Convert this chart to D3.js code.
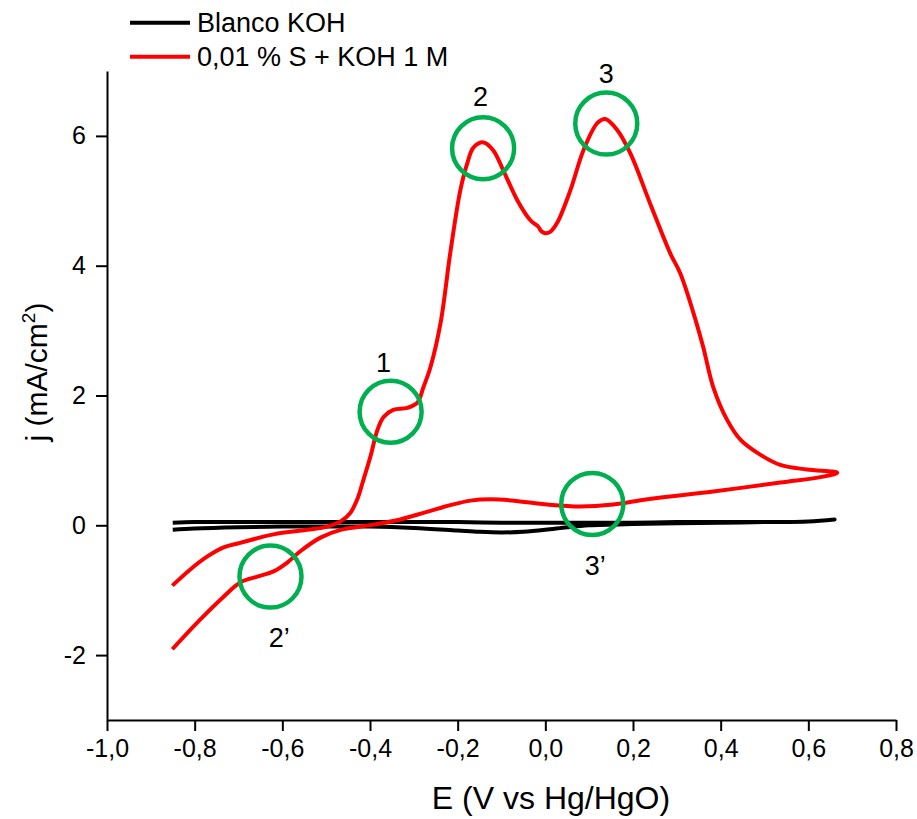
<!DOCTYPE html>
<html>
<head>
<meta charset="utf-8">
<script src="https://cdn.jsdelivr.net/npm/d3@7/dist/d3.min.js"></script>
<style>
  html, body { margin: 0; padding: 0; background: #fff; }
  svg { display: block; }
  text { font-family: Arial, "Liberation Sans", sans-serif; fill: #000; }
</style>
</head>
<body>
<div id="chart"></div>
<script>
// ---------- data ----------
const xMajorTicks = [-1.0, -0.8, -0.6, -0.4, -0.2, 0.0, 0.2, 0.4, 0.6, 0.8];
const xMinorTicks = [-0.9, -0.7, -0.5, -0.3, -0.1, 0.1, 0.3, 0.5, 0.7];
const yMajorTicks = [-2, 0, 2, 4, 6];
const yMinorTicks = [-3, -1, 1, 3, 5, 7];

const seriesNames = ["Blanco KOH", "0,01 % S + KOH 1 M"];

// Blank (KOH) – forward sweep (lower trace) and reverse sweep (upper trace)
const blankFwdE = [-0.85, -0.8, -0.7, -0.6, -0.5, -0.4, -0.3, -0.2, -0.15, -0.1, -0.05, 0.0, 0.05, 0.1, 0.2, 0.3, 0.4, 0.5, 0.6, 0.66];
const blankFwdJ = [-0.07, -0.05, -0.03, -0.02, -0.02, -0.02, -0.04, -0.08, -0.10, -0.11, -0.10, -0.07, -0.03, 0.0, 0.02, 0.03, 0.04, 0.05, 0.06, 0.09];
const blankRevE = [0.66, 0.6, 0.5, 0.4, 0.3, 0.2, 0.1, 0.0, -0.1, -0.2, -0.3, -0.4, -0.5, -0.6, -0.7, -0.8, -0.85];
const blankRevJ = [0.09, 0.06, 0.05, 0.05, 0.05, 0.04, 0.04, 0.04, 0.04, 0.05, 0.05, 0.05, 0.05, 0.05, 0.05, 0.05, 0.04];

// 0,01 % S + KOH 1 M – anodic sweep
const sulfFwdE = [-0.851, -0.810, -0.771, -0.734, -0.696, -0.620, -0.543, -0.497, -0.467, -0.445, -0.429, -0.415, -0.399, -0.383, -0.369, -0.347, -0.315, -0.292, -0.278, -0.262, -0.239, -0.217, -0.194, -0.178, -0.164, -0.141, -0.119, -0.096, -0.064, -0.034, -0.016, -0.009, 0.000, 0.011, 0.027, 0.057, 0.087, 0.119, 0.137, 0.164, 0.194, 0.239, 0.285, 0.308, 0.338, 0.360, 0.383, 0.415, 0.445, 0.483, 0.536, 0.597, 0.666];
const sulfFwdJ = [-0.93, -0.68, -0.48, -0.34, -0.27, -0.14, -0.07, -0.02, 0.06, 0.19, 0.40, 0.70, 1.06, 1.47, 1.67, 1.78, 1.81, 1.89, 2.13, 2.44, 3.12, 4.19, 5.16, 5.58, 5.82, 5.90, 5.78, 5.47, 5.01, 4.70, 4.60, 4.53, 4.50, 4.52, 4.66, 5.16, 5.78, 6.20, 6.26, 6.09, 5.73, 4.96, 4.19, 3.88, 3.27, 2.75, 2.13, 1.62, 1.32, 1.12, 0.93, 0.86, 0.81];
// 0,01 % S + KOH 1 M – cathodic (return) sweep
const sulfRevE = [0.634, 0.536, 0.383, 0.233, 0.155, 0.080, 0.005, -0.073, -0.125, -0.171, -0.217, -0.274, -0.331, -0.392, -0.467, -0.513, -0.559, -0.588, -0.620, -0.657, -0.696, -0.734, -0.787, -0.851];
const sulfRevJ = [0.75, 0.66, 0.52, 0.40, 0.32, 0.29, 0.32, 0.38, 0.40, 0.38, 0.31, 0.20, 0.09, 0.01, -0.07, -0.19, -0.40, -0.57, -0.71, -0.79, -0.88, -1.10, -1.45, -1.91];

// Marked peaks (circles) and their labels
const peakNames = ["1", "2", "3", "2\u2019", "3\u2019"];
const peakE = [-0.353, -0.142, 0.139, -0.627, 0.107];
const peakJ = [1.75, 5.81, 6.19, -0.79, 0.33];
const peakLabelE = [-0.369, -0.148, 0.139, -0.607, 0.114];
const peakLabelJ = [2.36, 6.46, 6.81, -1.88, -0.76];

// ---------- layout ----------
const W = 917, H = 819;
const margin = { left: 107, right: 21, top: 71, bottom: 99 };

const svg = d3.select("#chart").append("svg").attr("width", W).attr("height", H);

const x = d3.scaleLinear().domain([-1.0, 0.8]).range([margin.left, W - margin.right]);
const y = d3.scaleLinear().domain([-3, 7]).range([H - margin.bottom, margin.top]);

const fmt = v => v.toFixed(1).replace(".", ",").replace(/^-0,0$/, "0,0");

// axes
const gx = svg.append("g").attr("transform", `translate(0,${y(-3)})`);
gx.call(d3.axisBottom(x).tickValues(xMinorTicks).tickSize(6).tickSizeOuter(0).tickFormat(""));
gx.call(d3.axisBottom(x).tickValues(xMajorTicks).tickSize(11).tickSizeOuter(0).tickFormat(fmt).tickPadding(8));

const gy = svg.append("g").attr("transform", `translate(${x(-1.0)},0)`);
gy.call(d3.axisLeft(y).tickValues(yMinorTicks).tickSize(6).tickSizeOuter(0).tickFormat(""));
gy.call(d3.axisLeft(y).tickValues(yMajorTicks).tickSize(11).tickSizeOuter(0).tickFormat(d => String(d)).tickPadding(10));

svg.selectAll(".domain").attr("stroke", "#000").attr("stroke-width", 2);
svg.selectAll(".tick line").attr("stroke", "#000").attr("stroke-width", 2);
svg.selectAll(".tick text").attr("font-size", 25).attr("font-family", "Arial, 'Liberation Sans', sans-serif").attr("fill", "#000");

// axis titles
svg.append("text")
  .attr("x", 551).attr("y", 809)
  .attr("text-anchor", "middle").attr("font-size", 32)
  .text("E (V vs Hg/HgO)");

const yt = svg.append("text")
  .attr("transform", `translate(47,372) rotate(-90)`)
  .attr("text-anchor", "middle").attr("font-size", 30);
yt.append("tspan").text("j (mA/cm");
yt.append("tspan").attr("font-size", 19).attr("dy", -12).text("2");
yt.append("tspan").attr("dy", 12).text(")");

// curves
const line = d3.line().x(d => x(d[0])).y(d => y(d[1])).curve(d3.curveCatmullRom.alpha(0.5));
const zip = (a, b) => a.map((v, i) => [v, b[i]]);

const blankPts = zip(blankFwdE, blankFwdJ).concat(zip(blankRevE, blankRevJ).slice(1));
const sulfPts = zip(sulfFwdE, sulfFwdJ).concat(zip(sulfRevE, sulfRevJ));

svg.append("path").datum(blankPts).attr("d", line)
  .attr("fill", "none").attr("stroke", "#000").attr("stroke-width", 4).attr("stroke-linejoin", "round");
svg.append("path").datum(sulfPts).attr("d", line)
  .attr("fill", "none").attr("stroke", "#ff0000").attr("stroke-width", 4).attr("stroke-linejoin", "round");

// circles
const rPx = 31;
svg.selectAll("circle.peak").data(peakE).enter().append("circle")
  .attr("class", "peak")
  .attr("cx", (d, i) => x(peakE[i])).attr("cy", (d, i) => y(peakJ[i])).attr("r", rPx)
  .attr("fill", "none").attr("stroke", "#00b050").attr("stroke-width", 4.5);

svg.selectAll("text.peak").data(peakNames).enter().append("text")
  .attr("class", "peak")
  .attr("x", (d, i) => x(peakLabelE[i])).attr("y", (d, i) => y(peakLabelJ[i]))
  .attr("text-anchor", "middle").attr("font-size", 27)
  .text(d => d);

// legend
const legendColors = ["#000", "#ff0000"];
const lg = svg.append("g");
seriesNames.forEach((name, i) => {
  const yy = 22.7 + i * 34;
  lg.append("line").attr("x1", 130).attr("x2", 190).attr("y1", yy).attr("y2", yy)
    .attr("stroke", legendColors[i]).attr("stroke-width", 4);
  lg.append("text").attr("x", 197).attr("y", yy + 9.5).attr("font-size", 27).text(name);
});
</script>
</body>
</html>
